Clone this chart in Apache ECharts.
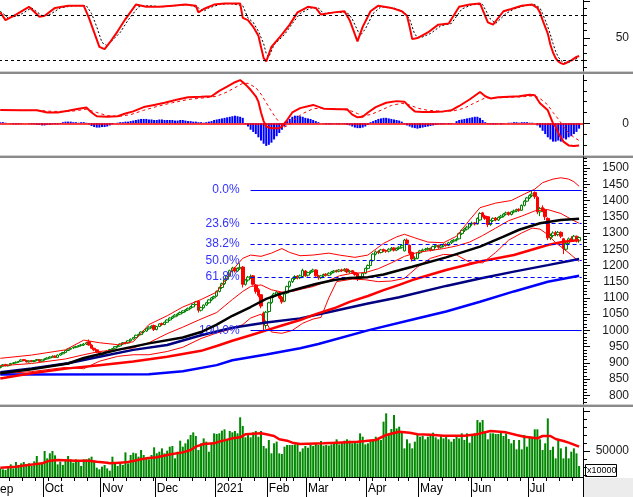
<!DOCTYPE html>
<html><head><meta charset="utf-8">
<script src="https://cdn.jsdelivr.net/npm/echarts@6/dist/echarts.min.js"></script>
<style>html,body{margin:0;padding:0;background:#fff}#c{width:633px;height:497px}</style>
</head><body><div id="c"></div><script>
// ---------- categories (trading days) ----------
const tradingDays = [
 ['2020-09',[8,9,10,11,14,15,16,17,18,21,22,23,24,25,28,29,30]],
 ['2020-10',[1,2,5,6,7,8,9,12,13,14,15,16,19,20,21,22,23,26,27,28,29,30]],
 ['2020-11',[2,3,4,5,6,9,10,11,12,13,16,17,18,19,20,23,24,25,26,27,30]],
 ['2020-12',[1,2,3,4,7,8,9,10,11,14,15,16,17,18,21,22,23,24,25,28,29,30,31]],
 ['2021-01',[4,5,6,7,8,11,12,13,14,15,18,19,20,21,22,25,26,27,28,29]],
 ['2021-02',[1,2,3,4,5,8,9,17,18,19,22,23,24,25,26]],
 ['2021-03',[1,2,3,4,5,8,9,10,11,12,15,16,17,18,19,22,23,24,25,26,29,30,31]],
 ['2021-04',[1,2,5,6,7,8,9,12,13,14,15,16,19,20,22,23,26,27,28,29]],
 ['2021-05',[4,5,6,7,10,11,12,13,14,17,18,19,20,21,24,25,26,27,28,31]],
 ['2021-06',[1,2,3,4,7,8,9,10,11,14,15,16,17,18,21,22,23,24,25,28,29,30]],
 ['2021-07',[1,2,5,6,7,8,9,12,13,14,15,16,19,20,21,22,23,26,27,28]]
];
const monthLabels = {'2020-10':'Oct','2020-11':'Nov','2020-12':'Dec','2021-01':'2021','2021-02':'Feb','2021-03':'Mar','2021-04':'Apr','2021-05':'May','2021-06':'Jun','2021-07':'Jul'};

// ---------- price candles [open, close, low, high] ----------
const candlesSep = [[886,889,883,892],[890,894,888,896],[895,891,889,897],[891,893,889,895],[894,898,892,900],[898,900,896,902],[900,902,898,904],[903,904,900,906],[905,909,903,911],[910,907,905,912],[907,903,901,909],[903,906,901,908],[907,904,902,909],[904,907,902,909],[908,910,905,912],[910,905,903,911],[905,909,903,911]];
const candlesOct = [[910,912,907,914],[912,915,910,917],[915,918,913,920],[918,920,916,923],[921,917,915,923],[917,924,915,926],[924,928,922,930],[928,932,926,934],[932,938,930,940],[938,942,936,944],[942,945,940,947],[946,948,943,950],[948,950,945,953],[950,953,948,955],[954,955,950,958],[955,958,952,961],[958,962,955,965],[965,955,953,972],[955,945,943,957],[945,940,936,947],[940,933,930,942],[933,925,922,935]];
const candlesNov = [[925,929,922,931],[929,933,926,935],[933,936,930,938],[936,941,934,943],[941,944,938,946],[945,950,943,952],[950,952,947,955],[952,958,950,960],[958,962,955,964],[962,961,957,965],[961,968,959,970],[968,973,965,975],[973,978,970,980],[978,985,976,987],[985,987,981,990],[987,995,985,997],[995,998,991,1000],[998,1005,995,1007],[1005,1010,1002,1013],[1010,1013,1006,1016],[1015,1003,998,1018]];
const candlesDec = [[1003,1012,1000,1014],[1012,1020,1010,1022],[1021,1018,1014,1024],[1018,1025,1016,1027],[1025,1032,1023,1034],[1032,1038,1029,1040],[1038,1042,1035,1045],[1042,1047,1040,1050],[1047,1050,1043,1053],[1050,1055,1047,1058],[1055,1060,1052,1062],[1060,1063,1056,1066],[1063,1068,1060,1070],[1068,1072,1065,1075],[1072,1080,1070,1082],[1080,1088,1077,1091],[1090,1062,1055,1093],[1062,1070,1058,1073],[1070,1078,1067,1080],[1078,1085,1075,1088],[1085,1094,1082,1096],[1094,1100,1090,1103],[1100,1104,1096,1107]];
const candlesJan = [[1106,1120,1103,1123],[1120,1132,1117,1135],[1132,1144,1128,1147],[1144,1157,1140,1160],[1157,1167,1152,1170],[1168,1184,1165,1187],[1184,1192,1179,1196],[1192,1183,1178,1195],[1183,1190,1180,1194],[1190,1194,1186,1207],[1195,1142,1132,1198],[1142,1155,1138,1158],[1155,1164,1150,1168],[1164,1166,1158,1172],[1168,1142,1138,1170],[1140,1120,1113,1143],[1125,1108,1102,1130],[1110,1075,1068,1112],[1053,1023,1001,1058],[1015,1056,1005,1060]];
const candlesFeb = [[1058,1085,1055,1088],[1086,1105,1082,1108],[1105,1112,1100,1116],[1112,1118,1106,1122],[1117,1100,1096,1120],[1102,1088,1082,1106],[1090,1112,1087,1114],[1115,1135,1112,1138],[1136,1150,1132,1153],[1150,1160,1146,1163],[1160,1166,1155,1170],[1167,1162,1157,1170],[1162,1168,1158,1172],[1166,1185,1163,1190],[1183,1168,1165,1186]];
const candlesMar = [[1170,1178,1166,1181],[1178,1182,1174,1185],[1182,1186,1178,1190],[1186,1168,1165,1188],[1168,1162,1156,1171],[1162,1168,1158,1171],[1168,1172,1164,1175],[1173,1170,1166,1176],[1170,1176,1167,1179],[1176,1180,1172,1183],[1180,1183,1176,1186],[1184,1182,1178,1187],[1182,1186,1179,1189],[1186,1184,1180,1190],[1184,1188,1181,1192],[1189,1180,1176,1191],[1180,1183,1176,1186],[1184,1178,1174,1186],[1178,1172,1168,1181],[1175,1160,1152,1177],[1160,1165,1155,1168],[1165,1176,1162,1178],[1176,1191,1173,1193]];
const candlesApr = [[1191,1200,1188,1203],[1200,1215,1198,1218],[1215,1235,1212,1238],[1235,1242,1231,1246],[1243,1240,1235,1247],[1240,1248,1237,1251],[1249,1246,1241,1252],[1246,1244,1239,1249],[1244,1250,1240,1253],[1250,1253,1246,1257],[1254,1247,1243,1256],[1247,1252,1244,1255],[1252,1256,1248,1259],[1256,1262,1252,1266],[1245,1278,1243,1282],[1278,1268,1263,1283],[1262,1238,1233,1265],[1240,1220,1212,1243],[1220,1222,1214,1228],[1222,1239,1219,1241]];
const candlesMay = [[1239,1245,1235,1248],[1245,1248,1241,1252],[1248,1250,1244,1254],[1250,1252,1246,1256],[1253,1248,1243,1255],[1248,1258,1245,1261],[1258,1262,1254,1266],[1262,1256,1251,1264],[1256,1260,1252,1263],[1260,1265,1256,1268],[1265,1262,1258,1268],[1262,1270,1259,1273],[1270,1275,1266,1278],[1275,1278,1271,1281],[1278,1280,1274,1284],[1282,1298,1280,1301],[1298,1308,1294,1311],[1308,1312,1303,1316],[1312,1318,1308,1322],[1318,1328,1315,1331]];
const candlesJun = [[1328,1330,1322,1335],[1331,1328,1323,1334],[1328,1345,1326,1348],[1340,1360,1338,1364],[1362,1352,1348,1365],[1352,1345,1340,1356],[1350,1326,1318,1352],[1326,1338,1322,1341],[1338,1345,1334,1348],[1346,1340,1336,1349],[1340,1348,1337,1351],[1348,1352,1344,1356],[1352,1358,1348,1361],[1358,1362,1354,1366],[1363,1357,1353,1366],[1357,1365,1354,1368],[1365,1368,1361,1372],[1368,1372,1364,1375],[1373,1370,1365,1376],[1370,1385,1368,1388],[1385,1398,1382,1401],[1398,1408,1395,1411]];
const candlesJul = [[1408,1415,1404,1419],[1415,1420,1410,1430],[1425,1412,1405,1428],[1410,1365,1358,1413],[1365,1375,1352,1380],[1378,1370,1364,1385],[1372,1350,1340,1376],[1345,1285,1278,1348],[1285,1292,1278,1298],[1292,1300,1286,1305],[1301,1295,1290,1306],[1295,1302,1290,1306],[1302,1290,1284,1305],[1282,1252,1235,1285],[1250,1268,1245,1272],[1268,1282,1264,1286],[1283,1278,1272,1290],[1278,1290,1274,1294],[1290,1276,1271,1292],[1276,1286,1270,1290]];

// ---------- price overlays [dayIndex, value] ----------
const ma50 = [[0,868],[12,880],[26,898],[32,915],[45,940],[57,960],[70,978],[77,995],[83,1018],[89,1045],[96,1072],[102,1097],[108,1114],[115,1130],[121,1143],[128,1155],[134,1161],[141,1164],[147,1172],[153,1185],[158,1196],[171,1225],[184,1258],[193,1289],[199,1310],[207,1330],[215,1340],[222,1344]];
const ma100 = [[0,852],[12,868],[26,883],[38,893],[51,904],[64,919],[77,937],[83,952],[89,968],[96,985],[102,1000],[108,1015],[115,1032],[121,1050],[128,1068],[134,1088],[141,1106],[147,1124],[153,1140],[158,1155],[171,1186],[184,1212],[197,1232],[210,1263],[216,1273],[222,1278]];
const ma150 = [[0,871],[12,883],[26,899],[38,919],[51,940],[64,955],[77,985],[89,1008],[102,1024],[115,1037],[128,1060],[141,1083],[153,1102],[171,1137],[184,1160],[197,1181],[210,1201],[222,1220]];
const ma200 = [[0,864],[57,865],[70,874],[83,893],[89,908],[102,926],[115,945],[122,958],[141,1000],[159,1035],[171,1058],[184,1088],[197,1120],[210,1150],[222,1168]];
const bbUpper = [[0,914],[12,924],[25,940],[32,970],[38,962],[45,956],[51,965],[57,1018],[64,1045],[70,1072],[77,1095],[83,1118],[89,1185],[93,1222],[96,1232],[100,1228],[104,1238],[108,1252],[111,1240],[115,1230],[120,1232],[126,1238],[130,1232],[136,1225],[141,1232],[147,1268],[152,1288],[155,1296],[159,1285],[164,1272],[170,1270],[175,1290],[180,1340],[184,1378],[190,1392],[196,1400],[201,1420],[205,1435],[208,1455],[212,1466],[215,1470],[218,1466],[220,1458],[222,1444]];
const bbMid = [[0,891],[12,898],[25,912],[32,925],[38,935],[45,940],[51,946],[57,962],[64,990],[70,1010],[77,1035],[83,1055],[89,1095],[93,1120],[96,1135],[100,1140],[104,1125],[108,1118],[112,1120],[116,1128],[120,1135],[125,1150],[130,1168],[135,1176],[140,1178],[145,1190],[150,1208],[155,1228],[160,1240],[165,1246],[170,1252],[175,1260],[180,1272],[185,1292],[190,1315],[195,1338],[200,1352],[205,1368],[210,1372],[215,1360],[220,1338],[222,1330]];
const bbLower = [[0,866],[12,873],[25,886],[32,882],[38,905],[45,920],[51,925],[57,925],[64,935],[70,948],[77,975],[83,992],[89,1005],[93,1018],[96,1038],[100,1050],[102,1025],[104,995],[108,991],[112,1000],[116,1022],[120,1035],[123,1040],[126,1100],[129,1150],[135,1158],[140,1156],[145,1150],[150,1152],[155,1160],[160,1195],[165,1222],[170,1234],[175,1232],[180,1210],[185,1208],[190,1240],[195,1278],[200,1300],[204,1315],[207,1312],[210,1295],[213,1270],[216,1252],[219,1232],[222,1212]];

// ---------- Fibonacci ----------
const fibLabels = ['0.0%','23.6%','38.2%','50.0%','61.8%','100.0%'];
const fibLevels = [1432, 1330, 1266, 1215, 1164, 999];
const fibStartIdx = 96;

// ---------- RSI ----------
const rsi = [[0,73],[2,66],[6,71],[11,78],[15,69],[17,70],[21,77],[26,79],[32,79],[34,68],[36,55],[38,42],[40,40],[42,46],[45,56],[48,67],[52,80],[56,78],[61,78],[66,79],[71,80],[75,79],[76,73],[78,76],[82,80],[86,81],[92,81],[93,68],[95,66],[97,60],[99,52],[100,42],[101,32],[102,29],[104,42],[108,53],[111,62],[114,73],[118,78],[121,77],[123,71],[128,73],[132,74],[134,66],[137,47],[139,60],[142,74],[145,79],[150,77],[154,74],[156,70],[157,60],[158,49],[160,50],[164,55],[168,62],[172,63],[176,78],[180,80],[184,81],[187,64],[189,62],[193,74],[196,76],[200,79],[204,80],[206,77],[207,73],[208,66],[209,60],[210,54],[211,44],[212,37],[213,32],[214,29],[215,27.5],[216,26.5],[217,27.5],[218,29],[219,30],[220,31.5],[221,33],[222,34]];
const rsiSignal = [[0,74],[3,68],[7,70],[12,77],[16,70],[19,71],[23,77],[28,79],[33,79],[35,72],[37,60],[39,46],[41,43],[43,48],[46,55],[49,66],[53,78],[57,79],[62,78],[67,79],[72,80],[76,77],[78,74],[80,77],[84,80],[88,81],[93,79],[95,68],[97,64],[99,56],[101,45],[102,36],[103,33],[105,44],[109,53],[112,63],[115,72],[119,77],[122,77],[124,72],[129,73],[133,73],[135,67],[138,52],[140,58],[143,72],[146,78],[151,77],[155,73],[157,67],[159,53],[161,50],[165,54],[169,61],[173,63],[177,76],[181,80],[185,80],[188,67],[190,63],[194,72],[197,76],[201,79],[205,80],[207,77],[208,72],[210,60],[211,53],[212,45],[213,38],[214,33],[215,30],[216,28],[217,27.5],[218,28],[219,29],[220,30.5],[222,32.5]];

// ---------- MACD ----------
const macdLine = [[0,12.3],[8,12],[14,12],[18,10],[22,10],[26,11.5],[30,13.5],[33,14.5],[35,10],[37,6.5],[41,6],[45,6.5],[48,9],[51,11],[55,15],[59,17],[63,19],[68,22],[72,24],[77,24.5],[81,25],[84,30],[87,34],[90,38],[92,40],[94,36],[96,31],[98,25],[99,20],[100,10],[101,2],[102,-3],[104,-4.6],[107,-4.6],[108,-3],[110,3],[112,10],[115,14],[120,17],[124,13.5],[130,13],[133,13],[135,8],[137,5.5],[139,6],[141,10],[144,15],[148,19],[152,20.5],[155,20],[157,15],[159,11],[162,10.5],[166,10.5],[170,11],[173,12],[176,16],[180,22],[184,29],[186,25],[188,23],[191,24],[195,24.5],[199,25],[203,26.5],[205,26],[207,18.5],[210,12],[212,0],[213,-3],[214,-9],[216,-17],[218,-20.5],[220,-21],[222,-20.5]];
const macdSignal = [[0,12],[14,12],[20,11],[27,11],[33,13],[37,10],[41,7],[46,6.5],[50,8],[55,12],[60,15.5],[66,19],[72,22],[78,23.5],[83,25],[87,29],[90,33],[93,37],[95,37],[98,33],[100,27],[102,19],[104,11],[106,4],[108,-2],[109,-3.5],[111,-1],[113,4],[116,9],[120,13.5],[124,14],[130,13],[134,12],[137,9],[139,7],[142,8],[146,12],[150,16.5],[154,18.5],[157,17],[160,14],[164,12],[170,11],[174,11.5],[178,14],[182,19],[186,23.5],[190,23.5],[195,24],[200,24.5],[205,25.5],[207,23],[210,17],[212,10],[214,4],[216,-3],[218,-9],[220,-13],[222,-16]];
const macdHist = [1,1, 0.5,0,-0.5,-1, -1,-1,-0.5,0,0,-0.5,-1,-1,
 -1.5,-1.5,-2,-2,-1.5,-1.5,-1,-1,-1,-0.5, 1,1.5,1.5,1.5,1,1,0.5, 1,1,0.5,-1,
 -2.5,-3.5,-4,-4,-3.5,-3.5,-3,-2,-1, 0,0.5,1,1,1.5,1.5,2,2.5,
 3,3.5,4,4,4,3.5,3.5,3,3,3.5,3.5,3,3,3,3,2.5,2.5,3,3,2.5,2,2,1.5,1.5,1,
 1,0.5,1,1.5,2, 3,3.5,4,4.5,5,5.5,6,6.5,7,6.5,6,5,
 -1,-3,-6,-8,-10,-13,-16,-19,-21,-20,-18,-15,-12,-9,-6,-3,
 2,4,6,7,7,6.5,6,5,4.5,4,3,2,1, 0,-0.5,-1,-1,-1,-0.5,-1,-1,-0.5,-1,-1.5,-2,
 -3,-4,-4.5,-4.5,-4,-3,-1.5, 1,2,3,4,4.5,5,5,4.5,4,3.5,3,2.5,1.5,
 -1,-2,-3,-4,-4.5,-5,-4.5,-4,-3.5,-3,-2.5,-2,-1.5,-1,-1, -1,-0.5,-1,-0.5,0,
 2,3,3.5,4,4.5,5,5.5,6,6,5,3,1, -0.5,-1,-1,-1,-0.5,-1,-0.5,0,
 0.5,0.5,1,1,0.5,1,1,1,0.5,0.5,0,
 -2,-4,-7,-10,-13,-15,-17,-17,-16,-17,-14,-15,-13,-12,-10,-8,-5];

// ---------- Volume (x10000) ----------
const volume = [28300,27100,26250,30400,33300,28300,36250,32500,34600,36250,
31700,34600,31250,37100,43750,34600,34600,50000,40800,47100,
50000,44600,33300,36700,32500,37500,43750,39600,35400,39600,
37500,31250,39600,39600,40800,42900,37500,29150,27100,30400,
32500,28300,25400,42900,35400,31250,36250,32500,48300,34600,
45000,47900,47100,42900,51250,45000,42100,39600,45000,54600,
47100,49150,53300,47100,50400,55400,56250,40800,49150,62900,
55400,59600,64600,70000,73300,68750,51250,59600,65800,61700,
49150,60400,72100,71250,72100,75400,77100,64600,75000,73300,
75000,72100,92100,81250,67100,70000,67100,73300,75000,67900,
75000,56250,53300,63750,47100,59600,61700,47100,46250,55400,
57500,57500,57500,
58300,58300,49150,53300,56250,54150,57500,56250,59600,57500,
62500,56700,57500,56700,58300,60400,64600,58300,60400,62900,
64600,62900,59600,61700,59600,72100,67900,58300,59600,62900,
62500,67900,63750,63750,86700,97100,70000,77500,95000,78300,
80400,72900,53300,64600,59600,53300,61700,70000,67900,68750,
64600,67900,70000,72900,67100,64600,68750,65800,67900,64600,
61700,65000,70000,65800,72100,63750,72100,60400,68750,72100,
88750,85800,88750,74150,64600,72100,72100,71250,71250,72900,
68750,72100,65000,59600,63750,52100,63750,52100,70000,55400,
67900,65800,77100,77100,64600,51250,59600,90800,51250,55400,
40800,63750,53300,40800,55400,40800,49150,53300,47100,31250];
const volumeMA = [[0,29150],[6,30400],[10,32100],[13,33300],[16,34600],[19,37900],[22,38750],[29,37900],[34,37900],[37,36700],[41,35400],[42,34600],[46,35400],[48,35800],[51,37500],[54,39600],[56,40800],[60,42100],[64,45000],[66,46250],[70,48300],[73,51250],[75,55400],[78,58750],[82,59600],[84,61700],[89,65800],[92,67100],[94,70850],[100,72100],[102,70850],[105,68750],[107,64600],[110,62900],[112,60400],[115,58750],[124,59600],[129,60400],[137,61700],[140,62500],[144,63750],[148,70000],[153,74150],[157,72900],[160,70850],[165,70400],[170,69200],[178,69200],[183,70850],[185,72900],[188,75000],[194,73300],[198,70000],[201,67900],[206,65800],[208,68750],[211,68750],[213,65000],[216,62500],[218,60400],[221,56700],[222,55400]];

// ---------- build categories ----------
const cats = [], monthStart = [], weekStart = [], monthText = [];
let prevWeek = null, prevMonth = null;
tradingDays.forEach(([ym, days]) => {
  const [y, m] = ym.split('-').map(Number);
  days.forEach(d => {
    const t = Date.UTC(y, m - 1, d) / 86400000;
    const wk = Math.floor((t + 3) / 7);
    cats.push(ym + '-' + String(d).padStart(2, '0'));
    weekStart.push(prevWeek !== null && wk !== prevWeek);
    monthStart.push(prevMonth !== null && ym !== prevMonth);
    monthText.push(monthLabels[ym] || '');
    prevWeek = wk; prevMonth = ym;
  });
});
cats.push('pad'); weekStart.push(false); monthStart.push(false); monthText.push('');
const ohlc = [].concat(candlesSep, candlesOct, candlesNov, candlesDec, candlesJan, candlesFeb, candlesMar, candlesApr, candlesMay, candlesJun, candlesJul);

const FONT = 'Liberation Sans, Arial, sans-serif';
const GL = -1, GW = 584;
const grids = [
  {left: GL, width: GW, top: 0, height: 71},
  {left: GL, width: GW, top: 75, height: 80},
  {left: GL, width: GW, top: 157, height: 247},
  {left: GL, width: GW, top: 408, height: 69}
].map(g => Object.assign(g, {containLabel: false, outerBoundsMode: 'none', show: false}));

const hiddenX = g => ({type: 'category', gridIndex: g, data: cats, boundaryGap: true, show: false});
const lbl = {color: '#1a1a1a', fontSize: 12, fontFamily: FONT, margin: 46, align: 'right', formatter: v => String(v)};
function mainY(g, min, max, labels, longTicks) {
  return {type: 'value', gridIndex: g, position: 'right', min, max, splitLine: {show: false},
    axisLine: {show: true, lineStyle: {color: '#000', width: 1}},
    axisTick: {show: true, customValues: longTicks, length: 7, lineStyle: {color: '#000'}},
    axisLabel: Object.assign({show: true, customValues: labels}, lbl)};
}
function minorY(g, min, max, ticks) {
  return {type: 'value', gridIndex: g, position: 'right', min, max, splitLine: {show: false},
    axisLine: {show: false}, axisLabel: {show: false},
    axisTick: {show: true, customValues: ticks, length: 4, lineStyle: {color: '#000'}}};
}
const priceLabels = [], priceMinor = [];
for (let v = 800; v <= 1500; v += 50) priceLabels.push(v);
for (let v = 780; v <= 1530; v += 10) if (v % 50) priceMinor.push(v);

const line = (xi, yi, data, color, width, type, z) => ({type: 'line', xAxisIndex: xi, yAxisIndex: yi, data,
  symbol: 'none', showSymbol: false, silent: true, animation: false, z: z || 3,
  lineStyle: {color, width, type: type || 'solid'}, emphasis: {disabled: true}});

const option = {
  animation: false,
  textStyle: {fontFamily: FONT},
  grid: grids,
  xAxis: [hiddenX(0), hiddenX(1), hiddenX(2),
    {type: 'category', gridIndex: 3, data: cats, boundaryGap: true, position: 'bottom',
      axisLine: {show: true, lineStyle: {color: '#000', width: 1}},
      axisTick: {show: true, interval: i => weekStart[i], length: 4, lineStyle: {color: '#000'}},
      axisLabel: {show: false}, splitLine: {show: false}},
    {type: 'category', gridIndex: 3, data: cats, boundaryGap: true, position: 'bottom',
      axisLine: {show: false},
      axisTick: {show: true, interval: i => monthStart[i], length: 20, lineStyle: {color: '#000'}},
      axisLabel: {show: true, interval: i => monthStart[i], formatter: (v, i) => monthText[i],
        align: 'left', margin: 6, color: '#000', fontSize: 12, fontFamily: FONT},
      splitLine: {show: false}}
  ],
  yAxis: [
    mainY(0, 20.4, 84.1, [50], [50, 83.33]),
    minorY(0, 20.4, 84.1, [23.33, 30, 36.67, 43.33, 56.67, 63.33, 70, 76.67]),
    mainY(1, -29.4, 44.7, [0], [0]),
    minorY(1, -29.4, 44.7, [40, 30, 20, 10, -10, -20]),
    mainY(2, 773.3, 1534, priceLabels, priceLabels),
    minorY(2, 773.3, 1534, priceMinor),
    mainY(3, 17500, 103750, [50000], [50000, 100000]),
    minorY(3, 17500, 103750, [20000, 30000, 40000, 60000, 70000, 80000, 90000])
  ],
  series: [
    // RSI panel
    line(0, 0, rsiSignal, '#000000', 1, [2, 2], 3),
    Object.assign(line(0, 0, rsi, '#ff0000', 2, 'solid', 4), {
      markLine: {silent: true, symbol: ['none', 'none'], animation: false, label: {show: false},
        lineStyle: {color: '#000', width: 1, type: [3, 3]}, emphasis: {disabled: true},
        data: [{yAxis: 70}, {yAxis: 30}]}}),
    // MACD panel
    {type: 'bar', xAxisIndex: 1, yAxisIndex: 2, data: macdHist, barWidth: 2, silent: true, animation: false,
      itemStyle: {color: '#0000ff'}, z: 2},
    line(1, 2, macdSignal, '#ff0000', 1, [3, 3], 3),
    Object.assign(line(1, 2, macdLine, '#ff0000', 2, 'solid', 4), {
      markLine: {silent: true, symbol: ['none', 'none'], animation: false, label: {show: false},
        lineStyle: {color: '#ff0000', width: 1.5, type: 'solid'}, emphasis: {disabled: true},
        data: [{yAxis: 0}]}}),
    // Price panel
    {type: 'candlestick', xAxisIndex: 2, yAxisIndex: 4, data: ohlc, barWidth: 3, silent: true, animation: false, z: 2,
      itemStyle: {color: '#ffffff', color0: '#ff0000', borderColor: '#008000', borderColor0: '#ff0000', borderWidth: 1},
      markLine: {silent: true, symbol: ['none', 'none'], animation: false, emphasis: {disabled: true},
        label: {show: true, position: 'start', distance: 11, formatter: '{b}', color: '#3333ff', fontSize: 12, fontFamily: FONT},
        data: fibLevels.map((v, k) => [
          {name: fibLabels[k], coord: [fibStartIdx, v],
            lineStyle: {color: '#0000ff', width: 1, type: (k === 0 || k === fibLevels.length - 1) ? 'solid' : [4, 3]}},
          {coord: [cats.length - 1, v]}])}},
    line(2, 4, bbUpper, '#ff0000', 1, 'solid', 3),
    line(2, 4, bbMid, '#ff0000', 1, 'solid', 3),
    line(2, 4, bbLower, '#ff0000', 1, 'solid', 3),
    line(2, 4, ma200, '#0000ff', 2.5, 'solid', 4),
    line(2, 4, ma150, '#000080', 2.5, 'solid', 4),
    line(2, 4, ma100, '#ff0000', 2.5, 'solid', 4),
    line(2, 4, ma50, '#000000', 2.5, 'solid', 5),
    // Volume panel
    {type: 'bar', xAxisIndex: 3, yAxisIndex: 6, data: volume, barWidth: 2, silent: true, animation: false,
      itemStyle: {color: '#008800'}, z: 2},
    line(3, 6, volumeMA, '#ff0000', 2.5, 'solid', 4)
  ],
  graphic: [
    {type: 'rect', shape: {x: 0, y: 71, width: 633, height: 1}, style: {fill: '#d0d0d0'}, silent: true},
    {type: 'rect', shape: {x: 0, y: 72, width: 633, height: 2}, style: {fill: '#8a8a8a'}, silent: true},
    {type: 'rect', shape: {x: 0, y: 155, width: 633, height: 1}, style: {fill: '#d0d0d0'}, silent: true},
    {type: 'rect', shape: {x: 0, y: 156, width: 633, height: 2}, style: {fill: '#8a8a8a'}, silent: true},
    {type: 'rect', shape: {x: 0, y: 404, width: 633, height: 1}, style: {fill: '#d0d0d0'}, silent: true},
    {type: 'rect', shape: {x: 0, y: 405, width: 633, height: 2}, style: {fill: '#8a8a8a'}, silent: true},
    {type: 'rect', shape: {x: 584, y: 478, width: 49, height: 19}, style: {fill: '#ececec'}, silent: true},
    {type: 'rect', shape: {x: 585.5, y: 464.5, width: 31, height: 12}, style: {fill: '#ffffff', stroke: '#000', lineWidth: 1}, silent: true},
    {type: 'text', x: 587, y: 470.5, silent: true,
      style: {text: 'x10000', fontSize: 9, fontFamily: FONT, fill: '#000', verticalAlign: 'middle', align: 'left'}},
    {type: 'text', x: -8, y: 490, silent: true,
      style: {text: 'Sep', fontSize: 12, fontFamily: FONT, fill: '#000', verticalAlign: 'middle', align: 'left'}}
  ]
};
const chart = echarts.init(document.getElementById('c'), null, {renderer: 'canvas'});
chart.setOption(option);
</script></body></html>
